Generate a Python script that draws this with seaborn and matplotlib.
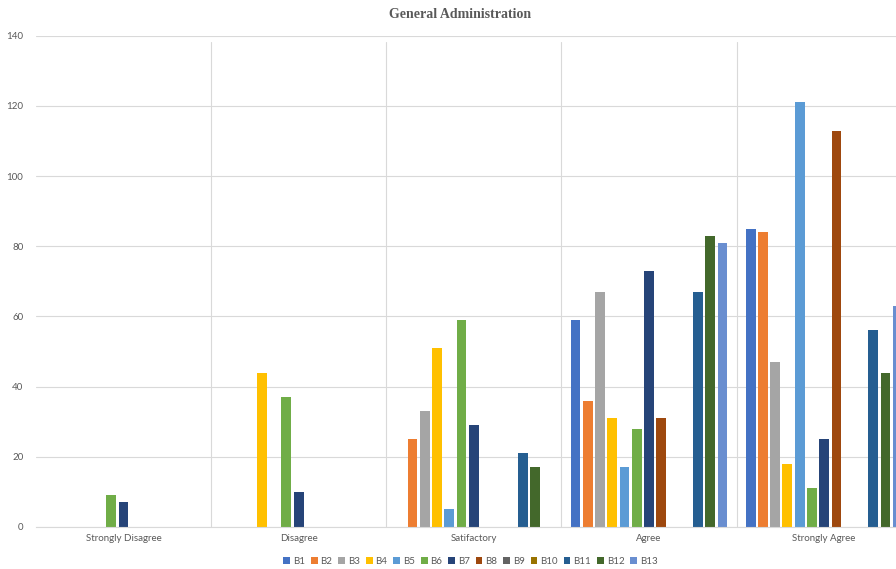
import matplotlib
matplotlib.use("Agg")
import matplotlib.pyplot as plt
import seaborn as sns
import pandas as pd

categories = ["Strongly Disagree", "Disagree", "Satifactory", "Agree", "Strongly Agree"]
series = ["B1", "B2", "B3", "B4", "B5", "B6", "B7", "B8", "B9", "B10", "B11", "B12", "B13"]

# one list per series, values in category order
B1 = [0, 0, 0, 59, 85]
B2 = [0, 0, 25, 36, 84]
B3 = [0, 0, 33, 67, 47]
B4 = [0, 44, 51, 31, 18]
B5 = [0, 0, 5, 17, 121]
B6 = [9, 37, 59, 28, 11]
B7 = [7, 10, 29, 73, 25]
B8 = [0, 0, 0, 31, 113]
B9 = [0, 0, 0, 0, 0]
B10 = [0, 0, 0, 0, 0]
B11 = [0, 0, 21, 67, 56]
B12 = [0, 0, 17, 83, 44]
B13 = [0, 0, 0, 81, 63]

colors = ["#4472C4", "#ED7D31", "#A5A5A5", "#FFC000", "#5B9BD5", "#70AD47",
          "#264478", "#9E480E", "#636363", "#997300", "#255E91", "#43682B", "#698ED0"]

values = [B1, B2, B3, B4, B5, B6, B7, B8, B9, B10, B11, B12, B13]
rows = []
for name, vals in zip(series, values):
    for cat, v in zip(categories, vals):
        rows.append({"category": cat, "series": name, "value": v})
df = pd.DataFrame(rows)

sns.set_style("white")
plt.rcParams["font.family"] = ["Lato", "DejaVu Sans"]
fig = plt.figure(figsize=(8.96, 5.69), dpi=100)
ax = fig.add_axes([0.040, 0.074, 0.960, 0.863])

sns.barplot(data=df, x="category", y="value", hue="series", order=categories,
            hue_order=series, palette=colors, width=0.91, gap=0.2,
            linewidth=0, saturation=1, ax=ax)

ax.set_ylim(0, 140)
ax.set_yticks(range(0, 141, 20))
ax.set_xlim(-0.5, 4.41)
ax.yaxis.grid(True, color="#D9D9D9", linewidth=0.8)
ax.set_axisbelow(True)
for b in [0.5, 1.5, 2.5, 3.5]:
    ax.axvline(b, ymin=0, ymax=0.988, color="#D9D9D9", linewidth=0.8, zorder=0)

for s in ["top", "right", "left"]:
    ax.spines[s].set_visible(False)
ax.spines["bottom"].set_color("#D9D9D9")
ax.tick_params(axis="both", length=0, labelsize=7, labelcolor="#595959", pad=5)
ax.tick_params(axis="y", pad=9)
ax.set_xlabel("")
ax.set_ylabel("")

fig.text(0.513, 0.975, "General Administration", ha="center", va="center",
         fontsize=10, fontweight="bold", family="Liberation Serif", color="#595959")

handles, labels = ax.get_legend_handles_labels()
ax.legend_.remove()
fig.legend(handles, labels, loc="center", bbox_to_anchor=(0.525, 0.013), ncol=13,
           frameon=False, fontsize=7, handlelength=0.7, handleheight=0.7,
           handletextpad=0.3, columnspacing=0.6, labelcolor="#595959")

fig.savefig("out.png", dpi=100)
